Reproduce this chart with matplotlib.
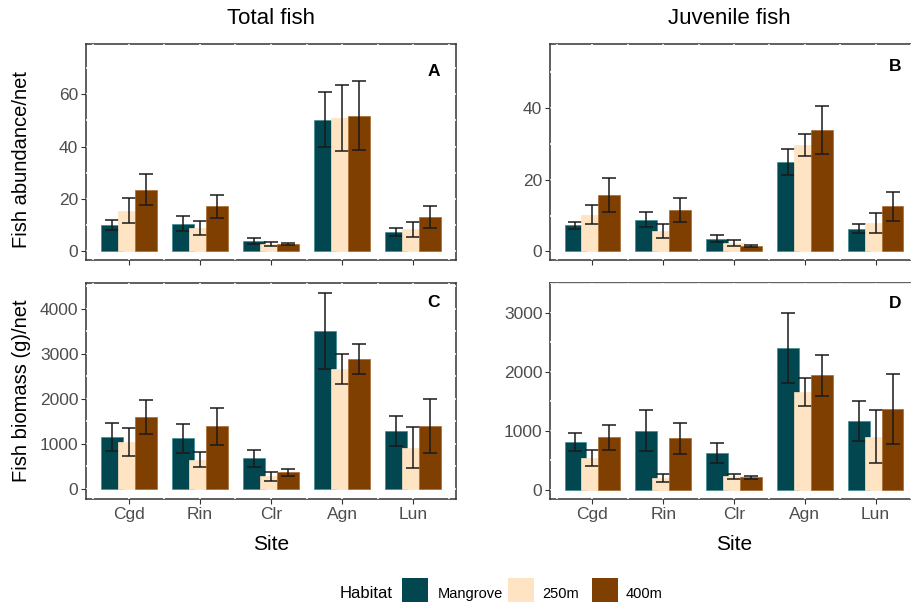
import matplotlib
matplotlib.use("Agg")
import matplotlib.pyplot as plt
import numpy as np
from matplotlib.patches import Rectangle

plt.rcParams["font.family"] = ["Liberation Sans", "DejaVu Sans"]

SITES = ["Cgd", "Rin", "Clr", "Agn", "Lun"]
HABITATS = ["Mangrove", "250m", "400m"]
COLORS = ["#02474F", "#FFE4C4", "#7F3F00"]
EDGES = ["#3C8C92", "#FFE4C4", "#A86A2E"]

# panel A: total fish abundance (mean, se)
tot_abund_mean = [[10.0, 10.5, 4.0, 50.3, 7.3],
                  [15.5, 9.0, 2.7, 51.0, 8.3],
                  [23.5, 17.2, 2.7, 51.8, 13.0]]
tot_abund_se = [[2.0, 2.8, 1.2, 10.6, 1.4],
                [4.7, 2.7, 0.9, 12.6, 3.0],
                [5.9, 4.4, 0.5, 13.2, 4.1]]

# panel B: juvenile fish abundance
juv_abund_mean = [[7.3, 8.9, 3.6, 25.0, 6.3],
                  [10.3, 5.7, 2.3, 29.7, 8.0],
                  [15.8, 11.5, 1.6, 34.0, 12.6]]
juv_abund_se = [[1.0, 2.1, 1.1, 3.7, 1.3],
                [2.6, 2.0, 0.8, 3.0, 2.8],
                [4.8, 3.3, 0.3, 6.7, 4.0]]

# panel C: total fish biomass
tot_bio_mean = [[1153, 1124, 680, 3505, 1287],
                [1043, 651, 288, 2662, 917],
                [1597, 1390, 370, 2876, 1390]]
tot_bio_se = [[318, 318, 185, 850, 333],
              [300, 160, 100, 330, 460],
              [380, 410, 78, 330, 600]]

# panel D: juvenile fish biomass
juv_bio_mean = [[811, 1004, 628, 2402, 1166],
                [542, 208, 233, 1652, 897],
                [892, 877, 213, 1941, 1363]]
juv_bio_se = [[150, 352, 165, 598, 332],
              [130, 66, 44, 240, 448],
              [208, 261, 30, 350, 593]]

W, H = 912, 602
DODGE = 0.24
BAR_W = 0.31


def px_axes(fig, left, top, right, bottom):
    return fig.add_axes([left / W, 1 - bottom / H, (right - left) / W, (bottom - top) / H])


def draw_panel(ax, means, ses, ylim, yticks, label, lab_xy, show_x):
    x = np.arange(1, len(SITES) + 1)
    for i, (m, s) in enumerate(zip(means, ses)):
        pos = x + (i - 1) * DODGE
        ax.bar(pos, m, width=BAR_W, color=COLORS[i], edgecolor=EDGES[i],
               linewidth=0.5, zorder=2 + i)
        ax.errorbar(pos, m, yerr=s, fmt="none", ecolor="#1a1a1a",
                    elinewidth=1.1, capsize=4.8, capthick=1.1, zorder=2 + i + 0.5)
    ax.set_xlim(0.4, 5.6)
    ax.set_ylim(*ylim)
    ax.set_xticks(x)
    ax.set_xticklabels(SITES if show_x else [])
    ax.set_yticks(yticks)
    minor = [(a + b) / 2 for a, b in zip(yticks[:-1], yticks[1:])]
    minor.append(yticks[-1] + (yticks[1] - yticks[0]) / 2)
    ax.set_yticks(minor, minor=True)
    ax.set_xticks(np.arange(0.5, 6.0, 1.0), minor=True)
    ax.tick_params(which="minor", length=0)
    ax.tick_params(which="major", length=3.5, width=0.8, color="#333333",
                   labelsize=12.5, labelcolor="#4D4D4D", pad=2)
    ax.set_axisbelow(True)
    ax.grid(True, which="both", color="white", linewidth=1.2)
    for sp in ax.spines.values():
        sp.set_color("#333333")
        sp.set_linewidth(1.1)
        sp.set_zorder(0.3)
    ax.text(lab_xy[0], lab_xy[1], label, transform=ax.transAxes, fontsize=12.5,
            fontweight="bold", ha="center", va="center")


fig = plt.figure(figsize=(W / 100, H / 100), dpi=100)
fig.patch.set_facecolor("white")

axA = px_axes(fig, 86, 44, 456, 260)
axB = px_axes(fig, 550, 44, 918, 260)
axC = px_axes(fig, 86, 283, 456, 499)
axD = px_axes(fig, 550, 283, 918, 499)

draw_panel(axA, tot_abund_mean, tot_abund_se, (-3.4, 79.2), [0, 20, 40, 60], "A", (0.94, 0.875), False)
draw_panel(axB, juv_abund_mean, juv_abund_se, (-2.4, 57.9), [0, 20, 40], "B", (0.937, 0.898), False)
draw_panel(axC, tot_bio_mean, tot_bio_se, (-222, 4570), [0, 1000, 2000, 3000, 4000], "C", (0.938, 0.912), True)
draw_panel(axD, juv_bio_mean, juv_bio_se, (-152, 3132), [0, 1000, 2000, 3000], "D", (0.937, 0.907), True)

fig.text(271 / W, 1 - 18 / H, "Total fish", fontsize=16, ha="center", va="center")
fig.text(729 / W, 1 - 18 / H, "Juvenile fish", fontsize=16, ha="center", va="center")
fig.text(22 / W, 1 - 160 / H, "Fish abundance/net", fontsize=14.5, rotation=90,
         ha="center", va="center")
fig.text(22 / W, 1 - 391 / H, "Fish biomass (g)/net", fontsize=14.5, rotation=90,
         ha="center", va="center")
fig.text(271 / W, 1 - 545 / H, "Site", fontsize=15, ha="center", va="center")
fig.text(734 / W, 1 - 545 / H, "Site", fontsize=15, ha="center", va="center")

# legend
fig.text(340 / W, 1 - 594 / H, "Habitat", fontsize=12, ha="left", va="center")
key_x = [402, 508, 592]
lab_x = [438, 542, 626]
for kx, lx, name, col in zip(key_x, lab_x, HABITATS, COLORS):
    fig.patches.append(Rectangle((kx / W, 1 - 604 / H), 26 / W, 26 / H,
                                 transform=fig.transFigure, facecolor=col,
                                 edgecolor="none"))
    fig.text(lx / W, 1 - 594 / H, name, fontsize=10.5, ha="left", va="center")

fig.savefig("out.png", dpi=100, facecolor=fig.get_facecolor())
